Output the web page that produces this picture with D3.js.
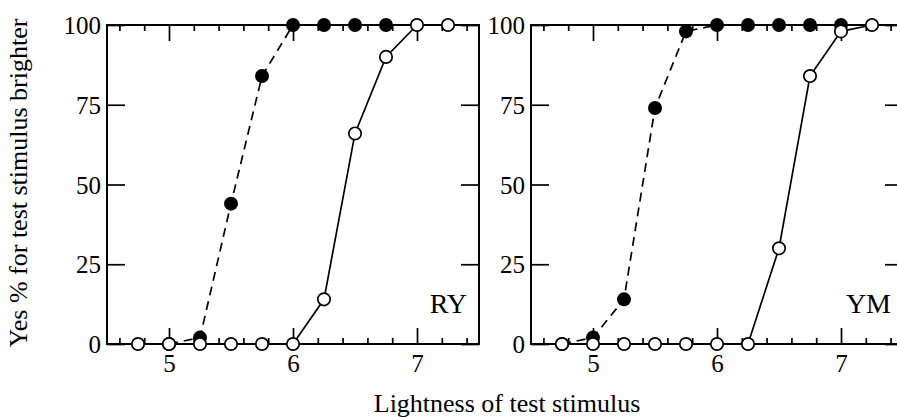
<!DOCTYPE html>
<html>
<head>
<meta charset="utf-8">
<script src="https://cdn.jsdelivr.net/npm/d3@7"></script>
<style>
  body { margin: 0; background: #fff; }
  svg text { font-family: "Liberation Serif", "DejaVu Serif", serif; fill: #000; }
</style>
</head>
<body>
<div id="chart"></div>
<script>
// lightness of the test stimulus (x of every point)
var lightness = [4.75, 5.0, 5.25, 5.5, 5.75, 6.0, 6.25, 6.5, 6.75, 7.0, 7.25];

// Yes % values, null where there is no point
var ryFilled = [null, 0, 2, 44, 84, 100, 100, 100, 100, null, null];
var ryOpen   = [0, 0, 0, 0, 0, 0, 14, 66, 90, 100, 100];
var ymFilled = [0, 2, 14, 74, 98, 100, 100, 100, 100, 100, null];
var ymOpen   = [0, 0, 0, 0, 0, 0, 0, 30, 84, 98, 100];

var panelNames = ["RY", "YM"];
var xTicks = [5, 6, 7];
var yTicks = [0, 25, 50, 75, 100];

var W = 897, H = 417;
var plotTop = 25, plotBottom = 344;
var panelLeft = [107, 531], panelWidth = 372;

var svg = d3.select("#chart").append("svg")
  .attr("width", W)
  .attr("height", H);

var y = d3.scaleLinear().domain([0, 100]).range([plotBottom, plotTop]);

var panels = [
  {name: panelNames[0], filled: ryFilled, open: ryOpen},
  {name: panelNames[1], filled: ymFilled, open: ymOpen}
];

var minorTicks = d3.range(4.6, 7.45, 0.2).map(function(v) { return +v.toFixed(1); })
  .filter(function(v) { return xTicks.indexOf(v) < 0; });

function plainTicks(a) {
  a.select(".domain").remove();
  a.selectAll("line").attr("stroke-width", 1.7);
}

panels.forEach(function(p, i) {
  var x = d3.scaleLinear().domain([4.5, 7.5]).range([panelLeft[i], panelLeft[i] + panelWidth]);
  var g = svg.append("g");

  // bottom axis: major ticks with labels, minor ticks without
  g.append("g")
    .attr("transform", "translate(0," + plotBottom + ")")
    .call(d3.axisBottom(x).tickValues(xTicks).tickSizeInner(-16).tickSizeOuter(0).tickPadding(10).tickFormat(d3.format("d")))
    .call(function(a) {
      plainTicks(a);
      a.attr("font-family", null).attr("font-size", null);
      a.selectAll("text").attr("font-size", 25).attr("dy", "0.71em");
    });
  g.append("g")
    .attr("transform", "translate(0," + plotBottom + ")")
    .call(d3.axisBottom(x).tickValues(minorTicks).tickSize(-6).tickFormat(""))
    .call(plainTicks);

  // top axis, ticks pointing down
  g.append("g")
    .attr("transform", "translate(0," + plotTop + ")")
    .call(d3.axisTop(x).tickValues(xTicks).tickSize(-16).tickFormat(""))
    .call(plainTicks);
  g.append("g")
    .attr("transform", "translate(0," + plotTop + ")")
    .call(d3.axisTop(x).tickValues(minorTicks).tickSize(-6).tickFormat(""))
    .call(plainTicks);

  // left axis with labels
  g.append("g")
    .attr("transform", "translate(" + x.range()[0] + ",0)")
    .call(d3.axisLeft(y).tickValues(yTicks).tickSizeInner(-18).tickSizeOuter(0).tickPadding(6))
    .call(function(a) {
      plainTicks(a);
      a.attr("font-family", null).attr("font-size", null);
      a.selectAll("text").attr("font-size", 25).attr("dy", "0.34em");
    });
  // right axis ticks
  g.append("g")
    .attr("transform", "translate(" + x.range()[1] + ",0)")
    .call(d3.axisRight(y).tickValues(yTicks).tickSize(-18).tickFormat(""))
    .call(plainTicks);

  // frame
  g.append("rect")
    .attr("x", x.range()[0])
    .attr("y", plotTop)
    .attr("width", x.range()[1] - x.range()[0])
    .attr("height", plotBottom - plotTop)
    .attr("fill", "none")
    .attr("stroke", "#000")
    .attr("stroke-width", 2);

  var line = d3.line()
    .x(function(d) { return x(d[0]); })
    .y(function(d) { return y(d[1]); });

  var filledPts = lightness.map(function(l, k) { return [l, p.filled[k]]; }).filter(function(d) { return d[1] != null; });
  var openPts = lightness.map(function(l, k) { return [l, p.open[k]]; }).filter(function(d) { return d[1] != null; });

  g.append("path")
    .attr("d", line(filledPts))
    .attr("fill", "none")
    .attr("stroke", "#000")
    .attr("stroke-width", 1.7)
    .attr("stroke-dasharray", "9,6");

  g.selectAll(".filled").data(filledPts).enter().append("circle")
    .attr("class", "filled")
    .attr("cx", function(d) { return x(d[0]); })
    .attr("cy", function(d) { return y(d[1]); })
    .attr("r", 7)
    .attr("fill", "#000");

  g.append("path")
    .attr("d", line(openPts))
    .attr("fill", "none")
    .attr("stroke", "#000")
    .attr("stroke-width", 1.7);

  g.selectAll(".open").data(openPts).enter().append("circle")
    .attr("class", "open")
    .attr("cx", function(d) { return x(d[0]); })
    .attr("cy", function(d) { return y(d[1]); })
    .attr("r", 6.2)
    .attr("fill", "#fff")
    .attr("stroke", "#000")
    .attr("stroke-width", 1.7);

  g.append("text")
    .attr("x", x.range()[1] - 12)
    .attr("y", 313)
    .attr("text-anchor", "end")
    .attr("font-size", 28)
    .text(p.name);
});

svg.append("text")
  .attr("transform", "translate(27,183) rotate(-90)")
  .attr("text-anchor", "middle")
  .attr("font-size", 26)
  .text("Yes % for test stimulus brighter");

svg.append("text")
  .attr("x", 507)
  .attr("y", 412)
  .attr("text-anchor", "middle")
  .attr("font-size", 26)
  .text("Lightness of test stimulus");
</script>
</body>
</html>
